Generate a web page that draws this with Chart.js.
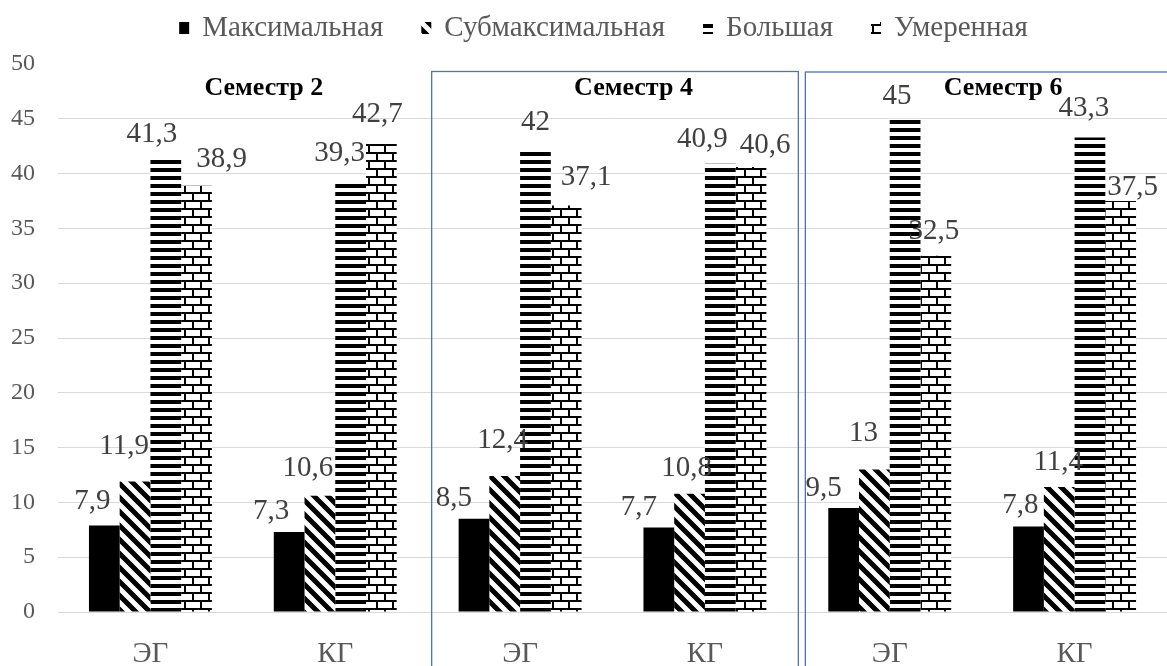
<!DOCTYPE html>
<html>
<head>
<meta charset="utf-8">
<script src="https://cdn.jsdelivr.net/npm/chart.js@4.4.1/dist/chart.umd.min.js"></script>
<style>
  html, body { margin: 0; padding: 0; background: #ffffff; }
  #wrap { width: 1167px; height: 666px; position: relative; }
</style>
</head>
<body>
<div id="wrap"><canvas id="chart" width="1167" height="666"></canvas></div>
<script>
// Groups along the x axis and their semester captions
const categories = ['ЭГ', 'КГ', 'ЭГ', 'КГ', 'ЭГ', 'КГ'];
const semesters = ['Семестр 2', 'Семестр 4', 'Семестр 6'];
const seriesNames = ['Максимальная', 'Субмаксимальная', 'Большая', 'Умеренная'];

// Share of training load by intensity zone, %
const maxLoad      = [7.9, 7.3, 8.5, 7.7, 9.5, 7.8];
const submaxLoad   = [11.9, 10.6, 12.4, 10.8, 13, 11.4];
const largeLoad    = [41.3, 39.3, 42, 40.9, 45, 43.3];
const moderateLoad = [38.9, 42.7, 37.1, 40.6, 32.5, 37.5];

// Value axis
const yMin = 0, yMax = 50, yStep = 5;

// Label nudges (px) from the top centre of each bar, so neighbouring values do not collide
const maxNudge      = [[-12, -24], [-18, -21], [-20, -20], [-20, -20], [-20, -19], [-8, -21]];
const submaxNudge   = [[-11, -35], [-12, -27], [-2, -36], [-3, -25], [-11, -36], [-1, -25]];
const largeNudge    = [[-14, -25], [-11, -28], [0, -29], [-18, -24], [-8, -22], [-6, -29]];
const moderateNudge = [[25, -26], [-4, -30], [20, -28], [14, -22], [-2, -24], [12, -14]];

const FONT = '"Liberation Serif", "Times New Roman", serif';

const canvas = document.getElementById('chart');
const ctx = canvas.getContext('2d');

function tile(w, h, paint) {
  const c = document.createElement('canvas');
  c.width = w; c.height = h;
  const g = c.getContext('2d');
  g.fillStyle = '#ffffff';
  g.fillRect(0, 0, w, h);
  g.fillStyle = '#000000';
  g.strokeStyle = '#000000';
  paint(g, w, h);
  return ctx.createPattern(c, 'repeat');
}

// Wide downward diagonal stripes
const diagPattern = tile(14, 14, (g, w, h) => {
  g.lineWidth = 5;
  g.beginPath();
  for (let k = -1; k <= 1; k++) {
    g.moveTo(k * w - 3, -3);
    g.lineTo(k * w + w + 3, h + 3);
  }
  g.stroke();
});
// Dark horizontal stripes
const horizPattern = tile(8, 8, (g) => { g.fillRect(0, 0, 8, 4); });
// Horizontal brick
const brickPattern = tile(16, 16, (g) => {
  g.fillRect(0, 0, 16, 2);
  g.fillRect(0, 8, 16, 2);
  g.fillRect(0, 0, 2, 8);
  g.fillRect(8, 8, 2, 8);
});

const fmt = v => String(v).replace('.', ',');

// Blue frames around the semester 4 and 6 groups, drawn under the bars
const semesterFrames = {
  id: 'semesterFrames',
  beforeDatasetsDraw(chart) {
    const x = chart.scales.x;
    const half = (x.getPixelForValue(1) - x.getPixelForValue(0)) / 2;
    const c = chart.ctx;
    c.save();
    c.strokeStyle = '#4f74ae';
    c.lineWidth = 1.3;
    const top = 71.5;
    // semester 4
    const l4 = x.getPixelForValue(2) - half + 4;
    const r4 = x.getPixelForValue(3) + half + 1;
    c.strokeRect(l4, top, r4 - l4, chart.height + 10 - top);
    // semester 6
    const l6 = r4 + 7;
    const r6 = x.getPixelForValue(5) + half + 10;
    c.strokeRect(l6, top + 0.5, r6 - l6, chart.height + 10 - top);
    c.restore();
  }
};

// Values above the bars and the semester captions
const valueLabels = {
  id: 'valueLabels',
  afterDatasetsDraw(chart) {
    const c = chart.ctx;
    c.save();
    c.font = '29px ' + FONT;
    c.fillStyle = '#404040';
    c.textAlign = 'center';
    c.textBaseline = 'middle';
    chart.data.datasets.forEach((ds, di) => {
      const meta = chart.getDatasetMeta(di);
      meta.data.forEach((bar, i) => {
        const n = ds.nudge[i];
        c.fillText(fmt(ds.data[i]), bar.x + n[0], bar.y + n[1]);
      });
    });

    const x = chart.scales.x;
    c.font = 'bold 26px ' + FONT;
    c.fillStyle = '#000000';
    semesters.forEach((s, g) => {
      const mid = (x.getPixelForValue(2 * g) + x.getPixelForValue(2 * g + 1)) / 2;
      c.fillText(s, mid + 21, 88);
    });
    c.restore();
  }
};

// Legend row across the top
const legendRow = {
  id: 'legendRow',
  afterDraw(chart) {
    const c = chart.ctx;
    c.save();
    c.font = '29px ' + FONT;
    c.textBaseline = 'middle';
    const box = 10, gap = 13, spacing = 38, y = 28;
    const items = chart.data.datasets.map(ds => ({ text: ds.label, fill: ds.backgroundColor }));
    const widths = items.map(it => box + gap + c.measureText(it.text).width);
    const total = widths.reduce((a, b) => a + b, 0) + spacing * (items.length - 1);
    let xPos = chart.width / 2 + 20 - total / 2;
    items.forEach((it, i) => {
      c.fillStyle = it.fill;
      c.fillRect(xPos, y - 6, box, 12);
      c.fillStyle = '#595959';
      c.fillText(it.text, xPos + box + gap, y);
      xPos += widths[i] + spacing;
    });
    c.restore();
  }
};

new Chart(canvas, {
  type: 'bar',
  data: {
    labels: categories,
    datasets: [
      { label: seriesNames[0], data: maxLoad, backgroundColor: '#000000', nudge: maxNudge },
      { label: seriesNames[1], data: submaxLoad, backgroundColor: diagPattern, nudge: submaxNudge },
      { label: seriesNames[2], data: largeLoad, backgroundColor: horizPattern, nudge: largeNudge },
      { label: seriesNames[3], data: moderateLoad, backgroundColor: brickPattern, nudge: moderateNudge }
    ]
  },
  options: {
    responsive: false,
    animation: false,
    devicePixelRatio: 1,
    layout: { padding: { top: 64, right: -2, left: 0, bottom: 0 } },
    datasets: { bar: { categoryPercentage: 0.665, barPercentage: 1, borderWidth: 0 } },
    plugins: { legend: { display: false }, tooltip: { enabled: false } },
    scales: {
      x: {
        grid: { display: false },
        border: { display: true, color: '#d9d9d9', width: 1 },
        ticks: { font: { family: FONT, size: 29 }, color: '#595959', padding: 17 },
        afterFit(s) { s.height = 54; }
      },
      y: {
        min: yMin, max: yMax,
        ticks: { stepSize: yStep, font: { family: FONT, size: 24 }, color: '#595959', padding: 23 },
        grid: { color: c => c.tick.value === yMax ? 'rgba(0,0,0,0)' : '#d9d9d9', drawTicks: false },
        border: { display: false },
        afterFit(s) { s.width = 58; }
      }
    }
  },
  plugins: [semesterFrames, valueLabels, legendRow]
});
</script>
</body>
</html>
